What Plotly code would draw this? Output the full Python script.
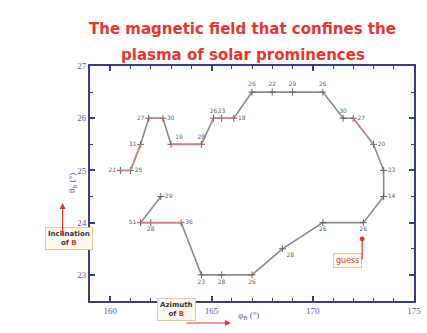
import plotly.graph_objects as go

# Field direction track: azimuth (phi_B) and inclination (theta_B), in degrees
azimuth = [160.5, 161.0, 161.5, 161.9, 162.6, 163.0, 164.5, 165.1, 165.5, 166.1,
           167.0, 168.0, 169.0, 170.5, 171.5, 172.0, 173.0, 173.5, 173.5, 172.5,
           170.5, 168.5, 167.0, 165.5, 164.5, 163.5, 162.0, 161.5, 162.5]
inclination = [25.0, 25.0, 25.5, 26.0, 26.0, 25.5, 25.5, 26.0, 26.0, 26.0,
               26.5, 26.5, 26.5, 26.5, 26.0, 26.0, 25.5, 25.0, 24.5, 24.0,
               24.0, 23.5, 23.0, 23.0, 23.0, 24.0, 24.0, 24.0, 24.5]
point_labels = ["21", "25", "31", "27", "30", "19", "28", "26", "23", "18",
                "26", "22", "29", "26", "30", "27", "20", "23", "14", "26",
                "26", "28", "26", "28", "23", "36", "28", "51", "29"]
label_pos = ["middle left", "middle right", "middle left", "middle left", "middle right",
             "top right", "top center", "top center", "top center", "middle right",
             "top center", "top center", "top center", "top center", "top center",
             "middle right", "middle right", "middle right", "middle right", "bottom center",
             "bottom center", "bottom right", "bottom center", "bottom center", "bottom center",
             "middle right", "bottom center", "middle left", "middle right"]
# segments (by start index) drawn in red
red_segments = [0, 1, 3, 5, 7, 8, 15, 25, 26]
x_ticks = [160, 165, 170, 175]
y_ticks = [23, 24, 25, 26, 27]
title_lines = ["The magnetic field that confines the", "plasma of solar prominences"]

NAVY = "#3b3b8c"
GREY = "#8c8c8c"
RED = "#e8362c"
PINK = "#e07a7a"

W, H = 427, 333
ML, MR, MT, MB = 90, 6, 66, 32

fig = go.Figure()

fig.add_trace(go.Scatter(
    x=azimuth, y=inclination, mode="lines+markers+text",
    line=dict(color=GREY, width=1.6),
    marker=dict(symbol="cross-thin", size=5, line=dict(color="#666", width=1)),
    text=point_labels, textposition=label_pos,
    textfont=dict(size=6, color="#666", family="DejaVu Sans"),
    hoverinfo="skip", showlegend=False,
))

rx, ry = [], []
for i in red_segments:
    rx += [azimuth[i], azimuth[i + 1], None]
    ry += [inclination[i], inclination[i + 1], None]
fig.add_trace(go.Scatter(x=rx, y=ry, mode="lines", line=dict(color=PINK, width=1.4),
                         hoverinfo="skip", showlegend=False))

axis_common = dict(
    showline=True, linecolor=NAVY, linewidth=2, mirror="ticks",
    ticks="inside", ticklen=5, tickwidth=1.5, tickcolor=NAVY,
    showgrid=False, zeroline=False,
    tickfont=dict(family="Liberation Serif", size=9, color="#5a5aa0"),
)

fig.update_xaxes(range=[159, 175], tickvals=x_ticks,
                 minor=dict(dtick=1, ticks="inside", ticklen=3, tickcolor=NAVY, tickwidth=1),
                 **axis_common)
fig.update_yaxes(range=[22.5, 27], tickvals=y_ticks,
                 minor=dict(dtick=0.5, ticks="inside", ticklen=3, tickcolor=NAVY, tickwidth=1),
                 **axis_common)

fig.update_layout(
    width=W, height=H,
    margin=dict(l=ML, r=MR, t=MT, b=MB),
    paper_bgcolor="white", plot_bgcolor="white",
)


def px(xp, yp):
    # figure pixels -> paper coordinates of the plot area
    return (xp - ML) / (W - ML - MR), (H - MB - yp) / (H - MT - MB)


def arrow(x0, y0, x1, y1, head=2):
    x, y = px(x1, y1)
    fig.add_annotation(x=x, y=y, xref="paper", yref="paper",
                       ax=x0 - x1, ay=y0 - y1, axref="pixel", ayref="pixel",
                       text="", showarrow=True, arrowhead=head, arrowsize=1,
                       arrowwidth=1.2, arrowcolor=RED)


def label(xp, yp, text, **kw):
    x, y = px(xp, yp)
    fig.add_annotation(x=x, y=y, xref="paper", yref="paper", text=text,
                       showarrow=False, **kw)


title_font = dict(family="DejaVu Sans", size=15, color=RED, weight="bold")
label(246, 18, title_lines[0], font=title_font)
label(246, 44, title_lines[1], font=title_font)

box = dict(bgcolor="#fffaf0", bordercolor="#f3c48f", borderwidth=1, borderpad=2)

# Inclination box with arrow
label(44, 250, "<b>Inclination</b><br><b>of <span style='color:%s'>B</span></b>" % RED,
      font=dict(size=7, color="#333", family="DejaVu Sans"), **box)
arrow(62, 237, 62, 203)
label(64, 183, "θ<sub>B</sub> (°)", textangle=-90,
      font=dict(size=9, color="#5a5aa0", family="Liberation Serif"))

# Azimuth box with arrow
label(158, 321, "<b>Azimuth</b><br><b>of <span style='color:%s'>B</span></b>" % RED,
      font=dict(size=7, color="#333", family="DejaVu Sans"), **box)
arrow(188, 323, 234, 323)
label(252, 323, "φ<sub>B</sub> (°)",
      font=dict(size=9, color="#5a5aa0", family="Liberation Serif"))

# "guess" marker
label(368, 268, "guess", font=dict(size=8, color=RED, family="DejaVu Sans"), **box)
arrow(368, 261, 368, 239, head=6)

fig.write_html("out.html")
